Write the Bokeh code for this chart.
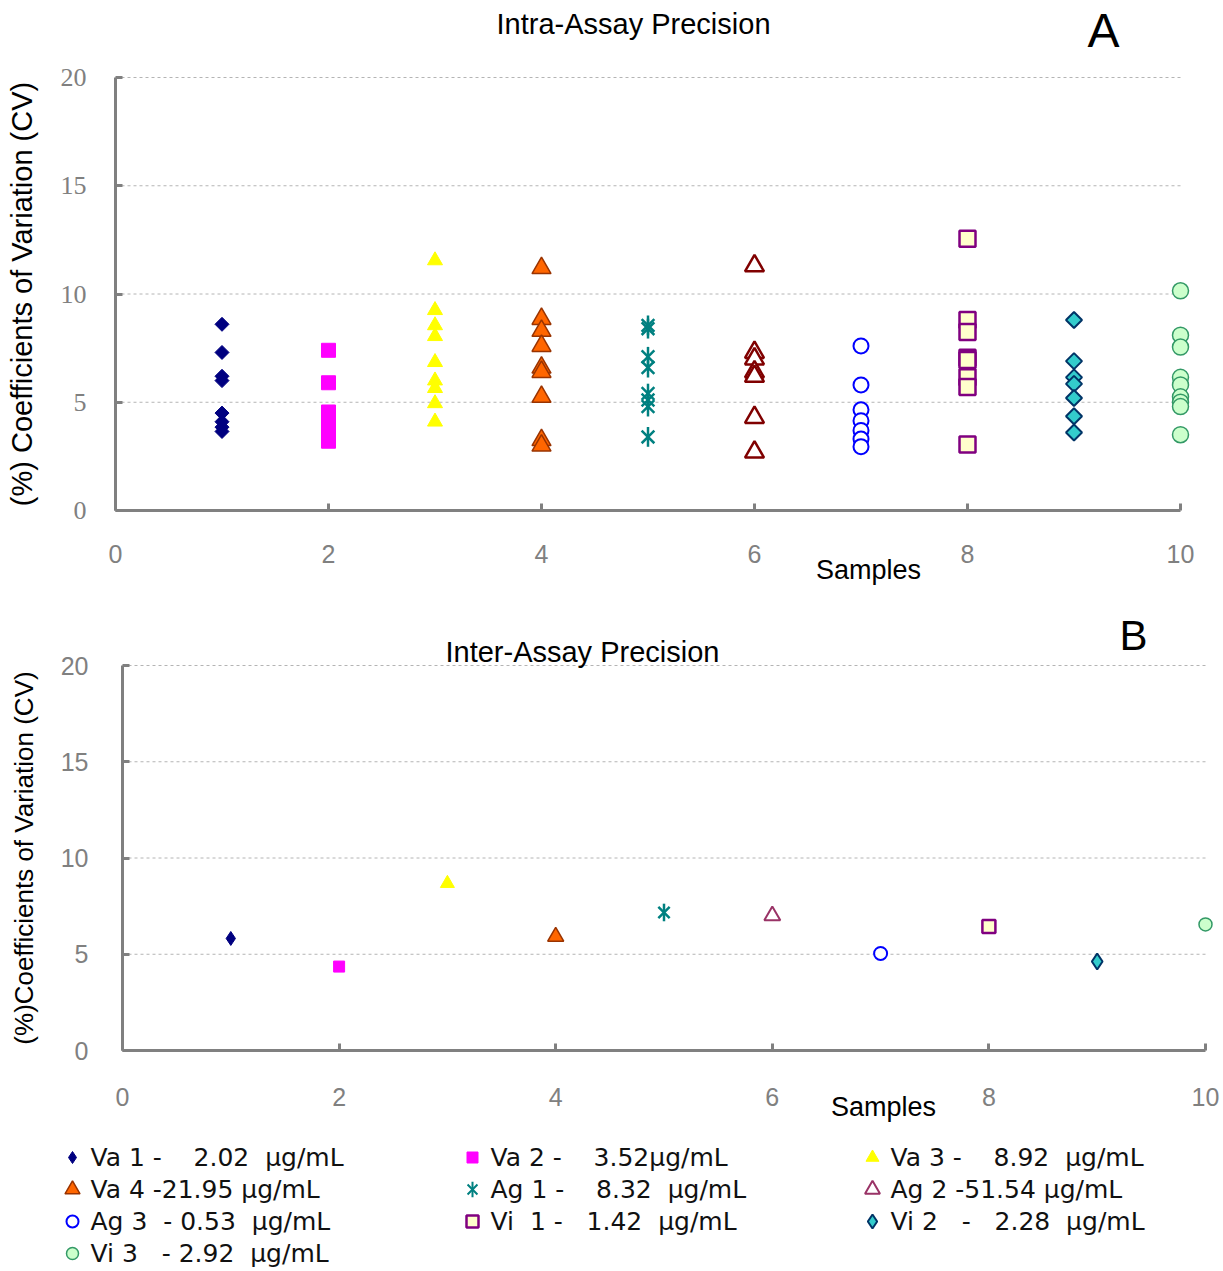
import math
from bokeh.plotting import figure
from bokeh.layouts import column
from bokeh.models import Range1d, Label, SingleIntervalTicker, LinearAxis
from bokeh.embed import file_html
from bokeh.resources import INLINE
from bokeh.core.properties import value

# ---------------- data ----------------
samples = [1, 2, 3, 4, 5, 6, 7, 8, 9, 10]
series_names = ["Va 1", "Va 2", "Va 3", "Va 4", "Ag 1", "Ag 2", "Ag 3", "Vi 1", "Vi 2", "Vi 3"]
N = "\u00a0"
legend_labels = [
    "Va 1 -" + N * 3 + " 2.02" + N + " µg/mL",
    "Va 2 -" + N * 3 + " 3.52µg/mL",
    "Va 3 -" + N * 3 + " 8.92" + N + " µg/mL",
    "Va 4 -21.95 µg/mL",
    "Ag 1 -" + N * 3 + " 8.32" + N + " µg/mL",
    "Ag 2 -51.54 µg/mL",
    "Ag 3" + N + " - 0.53" + N + " µg/mL",
    "Vi" + N + " 1 -" + N * 2 + " 1.42" + N + " µg/mL",
    "Vi 2" + N * 2 + " -" + N * 2 + " 2.28" + N + " µg/mL",
    "Vi 3" + N * 2 + " - 2.92" + N + " µg/mL",
]

# Intra-assay CV (%) per sample (replicates)
intra_va1 = [8.6, 7.3, 6.2, 6.0, 4.5, 4.1, 3.85, 3.65]
intra_va2 = [7.4, 5.9, 4.55, 4.0, 3.6, 3.2]
intra_va3 = [11.55, 9.25, 8.55, 8.05, 6.85, 6.0, 5.65, 4.95, 4.1]
intra_va4 = [11.2, 8.85, 8.3, 7.6, 6.6, 6.4, 5.25, 3.25, 3.0]
intra_ag1 = [8.55, 8.4, 7.1, 6.6, 5.4, 5.1, 4.8, 3.4]
intra_ag2 = [11.3, 7.3, 7.0, 6.4, 6.2, 4.3, 2.7]
intra_ag3 = [7.6, 5.8, 4.65, 4.15, 3.7, 3.3, 2.95]
intra_vi1 = [12.55, 8.8, 8.25, 7.05, 6.95, 6.15, 5.7, 3.05]
intra_vi2 = [8.8, 6.9, 6.15, 5.85, 5.2, 4.35, 3.6]
intra_vi3 = [10.15, 8.1, 7.55, 6.15, 5.8, 5.25, 5.0, 4.8, 3.5]
intra_cv = [intra_va1, intra_va2, intra_va3, intra_va4, intra_ag1,
            intra_ag2, intra_ag3, intra_vi1, intra_vi2, intra_vi3]

# Inter-assay CV (%) per sample
inter_cv = [5.82, 4.36, 8.68, 5.92, 7.17, 7.0, 5.04, 6.44, 4.62, 6.55]

x_min, x_max, x_tick_step = 0, 10, 2
y_min, y_max, y_tick_step = 0, 20, 5
y_grid_values = [5, 10, 15, 20]

# ---------------- styles ----------------
kinds = ["rdiamond", "square", "triangle", "triangle", "star", "triangle", "circle", "square", "rdiamond", "circle"]
fills = ["#000080", "#FF00FF", "#FFFF00", "#FF6600", None, "#FFFFFF", "#FFFFFF", "#FFFFCC", "#33CCCC", "#CCFFCC"]
lines_a = ["#000080", "#FF00FF", "#FFFF00", "#993300", "#008080", "#800000", "#0000FF", "#800080", "#003366", "#339966"]
lines_b = ["#000080", "#FF00FF", "#FFFF00", "#993300", "#008080", "#993366", "#0000FF", "#800080", "#003366", "#339966"]
sizes_a = [14, 14, 15, 19, 18, 19, 15, 16, 16, 16]
lw_a = [1, 1, 1, 1.5, 2.5, 2.5, 2, 2.5, 2, 1.5]
sizes_b = [14, 11, 14, 16, 16, 16, 13, 13, 16, 13]
lw_b = [1, 1, 1, 1.5, 2.5, 2, 2, 2.5, 2, 1.5]
sizes_l = [12, 11, 13, 15, 14, 15, 12, 12, 14, 12]

AX = "#808080"
W = 1220


def draw(p, xs, ys, kind, fill, line, size, lw, narrow_diamond=False):
    if kind == "rdiamond":
        if narrow_diamond:
            p.scatter(xs, ys, marker="diamond", size=size, fill_color=fill,
                      line_color=line, line_width=lw)
        else:
            p.scatter(xs, ys, marker="square", angle=math.pi / 4, size=size / math.sqrt(2),
                      fill_color=fill, line_color=line, line_width=lw)
    elif kind == "star":
        p.scatter(xs, ys, marker="x", size=size, line_color=line, line_width=lw)
        p.scatter(xs, ys, marker="dash", angle=math.pi / 2, size=size * 1.1,
                  line_color=line, line_width=lw)
    else:
        p.scatter(xs, ys, marker=kind, size=size, fill_color=fill,
                  line_color=line, line_width=lw)


def make_panel(height, x0_px, x10_px, y0_px, y20_px):
    """Figure whose frame fills the figure; axes are placed at data 0 (fixed_location)."""
    kx = (x10_px - x0_px) / (x_max - x_min)
    ky = (y0_px - y20_px) / (y_max - y_min)
    xr = Range1d(x_min - x0_px / kx, x_min + (W - x0_px) / kx)
    yr = Range1d(y_min - (height - y0_px) / ky, y_min + y0_px / ky)
    p = figure(width=W, height=height, output_backend="svg", toolbar_location=None,
               x_range=xr, y_range=yr, x_axis_type=None, y_axis_type=None,
               min_border=0, min_border_left=0, min_border_right=0,
               min_border_top=0, min_border_bottom=0)
    p.outline_line_color = None
    p.xgrid.grid_line_color = None
    p.ygrid.grid_line_color = None
    # dashed horizontal gridlines within the axes area
    p.segment(x0=[x_min] * len(y_grid_values), x1=[x_max] * len(y_grid_values),
              y0=y_grid_values, y1=y_grid_values,
              line_color="#b4b4b4", line_dash="3 3", line_width=1)
    return p


def add_axes(p, ytick_font, ytick_size, xstand, ystand, ylabel, ylabel_size, ylab_stand):
    xa = LinearAxis(fixed_location=y_min, bounds=(x_min, x_max),
                    ticker=SingleIntervalTicker(interval=x_tick_step))
    ya = LinearAxis(fixed_location=x_min, bounds=(y_min, y_max),
                    ticker=SingleIntervalTicker(interval=y_tick_step))
    for ax in (xa, ya):
        ax.axis_line_color = AX
        ax.axis_line_width = 3
        ax.major_tick_in = 7
        ax.major_tick_out = 0
        ax.major_tick_line_color = AX
        ax.major_tick_line_width = 3
        ax.minor_tick_line_color = None
        ax.major_label_text_color = AX
    xa.major_label_text_font = "Liberation Sans"
    xa.major_label_text_font_size = "25px"
    xa.major_label_standoff = xstand
    ya.major_label_text_font = ytick_font
    ya.major_label_text_font_size = ytick_size
    ya.major_label_standoff = ystand
    ya.axis_label = ylabel
    ya.axis_label_text_font = "Liberation Sans"
    ya.axis_label_text_font_style = "normal"
    ya.axis_label_text_font_size = ylabel_size
    ya.axis_label_text_color = "black"
    ya.axis_label_standoff = ylab_stand
    p.add_layout(xa, "below")
    p.add_layout(ya, "left")


def label(p, x, y, text, size):
    p.add_layout(Label(x=x, y=y, text=text, text_font="Liberation Sans",
                       text_font_size=size, text_color="black",
                       text_align="center", text_baseline="middle"))


# ---------------- Panel A ----------------
HA = 600
pa = make_panel(HA, 115, 1180, 510, 77)
add_axes(pa, "Liberation Serif", "26px", 30, 25,
         "(%) Coefficients of Variation (CV)", "29px", 20)
for i in range(len(series_names)):
    ys = intra_cv[i]
    xs = [samples[i]] * len(ys)
    draw(pa, xs, ys, kinds[i], fills[i], lines_a[i], sizes_a[i], lw_a[i])
label(pa, 4.864, 22.45, "Intra-Assay Precision", "29px")
label(pa, 9.277, 22.17, "A", "48px")
label(pa, 7.07, -2.77, "Samples", "27px")

# ---------------- Panel B ----------------
HB = 535
pb = make_panel(HB, 122, 1205, 450, 65)
add_axes(pb, "Liberation Sans", "25px", 33, 30,
         "(%)Coefficients of Variation (CV)", "26px", 19)
for i in range(len(series_names)):
    draw(pb, [samples[i]], [inter_cv[i]], kinds[i], fills[i], lines_b[i], sizes_b[i], lw_b[i],
         narrow_diamond=True)
label(pb, 4.247, 20.68, "Inter-Assay Precision", "29px")
label(pb, 9.335, 21.56, "B", "42px")
label(pb, 7.027, -2.96, "Samples", "27px")

# ---------------- Legend ----------------
LH = 133
pl = figure(width=W, height=LH, output_backend="svg", toolbar_location=None,
            x_range=Range1d(0, W), y_range=Range1d(LH, 0),
            x_axis_type=None, y_axis_type=None,
            min_border=0, min_border_left=0, min_border_right=0, min_border_top=0, min_border_bottom=0)
pl.xgrid.grid_line_color = None
pl.ygrid.grid_line_color = None
pl.outline_line_color = None
col_x0, col_step, row_y0, row_step, text_dx = 72, 400, 22, 32, 18
for i in range(len(series_names)):
    mx = col_x0 + (i % 3) * col_step
    my = row_y0 + (i // 3) * row_step
    draw(pl, [mx], [my], kinds[i], fills[i], lines_b[i], sizes_l[i], lw_b[i] if i != 4 else 2,
         narrow_diamond=True)
    pl.text([mx + text_dx], [my], text=[legend_labels[i]], text_font=value("DejaVu Sans"),
            text_font_size=value("25px"), text_color="#111111",
            text_align="left", text_baseline="middle")

layout = column(pa, pb, pl, spacing=0)
open("out.html", "w").write(file_html(layout, INLINE))
